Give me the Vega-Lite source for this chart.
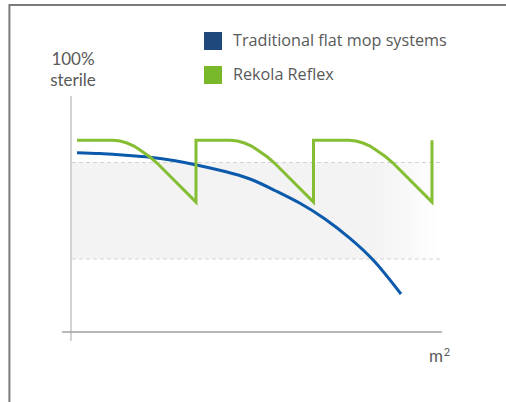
{
  "$schema": "https://vega.github.io/schema/vega-lite/v6.json",
  "width": 371,
  "height": 236,
  "autosize": {"type": "none"},
  "padding": {"left": 71, "top": 96, "right": 64, "bottom": 70},
  "background": "white",
  "config": {"view": {"stroke": null}},
  "datasets": {
    "frame": [{"x1": -16.6, "x2": 140, "y1": 138.6, "y2": -40}],
    "band": [{"x1": 0.27, "x2": 100, "y1": 30.93, "y2": 71.82}],
    "dashes": [{"x1": 0.27, "x2": 100, "y": 71.82}, {"x1": 0.27, "x2": 100, "y": 30.93}],
    "yaxis": [{"x": 0, "y1": -3.81, "y2": 100}],
    "xaxis": [{"x1": -2.43, "x2": 100, "y": 0}],
    "lines": [
      {"s": "Traditional flat mop systems", "i": 1, "x": 1.62, "y": 75.97},
      {"s": "Traditional flat mop systems", "i": 2, "x": 7.82, "y": 75.59},
      {"s": "Traditional flat mop systems", "i": 3, "x": 14.56, "y": 74.87},
      {"s": "Traditional flat mop systems", "i": 4, "x": 21.29, "y": 74.03},
      {"s": "Traditional flat mop systems", "i": 5, "x": 28.03, "y": 72.54},
      {"s": "Traditional flat mop systems", "i": 6, "x": 34.77, "y": 70.47},
      {"s": "Traditional flat mop systems", "i": 7, "x": 41.51, "y": 68.01},
      {"s": "Traditional flat mop systems", "i": 8, "x": 48.25, "y": 64.83},
      {"s": "Traditional flat mop systems", "i": 9, "x": 54.99, "y": 59.96},
      {"s": "Traditional flat mop systems", "i": 10, "x": 61.73, "y": 54.53},
      {"s": "Traditional flat mop systems", "i": 11, "x": 68.46, "y": 47.88},
      {"s": "Traditional flat mop systems", "i": 12, "x": 75.2, "y": 39.7},
      {"s": "Traditional flat mop systems", "i": 13, "x": 81.94, "y": 29.66},
      {"s": "Traditional flat mop systems", "i": 14, "x": 88.95, "y": 16.1},
      {"s": "Rekola Reflex", "i": 1, "x": 1.62, "y": 81.23},
      {"s": "Rekola Reflex", "i": 2, "x": 11.32, "y": 81.23},
      {"s": "Rekola Reflex", "i": 3, "x": 13.21, "y": 80.93},
      {"s": "Rekola Reflex", "i": 4, "x": 15.09, "y": 80.08},
      {"s": "Rekola Reflex", "i": 5, "x": 16.98, "y": 78.81},
      {"s": "Rekola Reflex", "i": 6, "x": 18.6, "y": 77.12},
      {"s": "Rekola Reflex", "i": 7, "x": 19.95, "y": 75.64},
      {"s": "Rekola Reflex", "i": 8, "x": 21.29, "y": 74.15},
      {"s": "Rekola Reflex", "i": 9, "x": 23.18, "y": 71.61},
      {"s": "Rekola Reflex", "i": 10, "x": 33.69, "y": 55.08},
      {"s": "Rekola Reflex", "i": 11, "x": 33.69, "y": 81.23},
      {"s": "Rekola Reflex", "i": 12, "x": 42.99, "y": 81.23},
      {"s": "Rekola Reflex", "i": 13, "x": 44.88, "y": 80.93},
      {"s": "Rekola Reflex", "i": 14, "x": 46.77, "y": 80.08},
      {"s": "Rekola Reflex", "i": 15, "x": 48.65, "y": 78.81},
      {"s": "Rekola Reflex", "i": 16, "x": 50.27, "y": 77.12},
      {"s": "Rekola Reflex", "i": 17, "x": 51.62, "y": 75.64},
      {"s": "Rekola Reflex", "i": 18, "x": 52.96, "y": 74.15},
      {"s": "Rekola Reflex", "i": 19, "x": 54.85, "y": 71.61},
      {"s": "Rekola Reflex", "i": 20, "x": 65.36, "y": 55.08},
      {"s": "Rekola Reflex", "i": 21, "x": 65.36, "y": 81.23},
      {"s": "Rekola Reflex", "i": 22, "x": 74.93, "y": 81.23},
      {"s": "Rekola Reflex", "i": 23, "x": 76.82, "y": 80.93},
      {"s": "Rekola Reflex", "i": 24, "x": 78.71, "y": 80.08},
      {"s": "Rekola Reflex", "i": 25, "x": 80.59, "y": 78.81},
      {"s": "Rekola Reflex", "i": 26, "x": 82.21, "y": 77.12},
      {"s": "Rekola Reflex", "i": 27, "x": 83.56, "y": 75.64},
      {"s": "Rekola Reflex", "i": 28, "x": 84.91, "y": 74.15},
      {"s": "Rekola Reflex", "i": 29, "x": 86.79, "y": 71.61},
      {"s": "Rekola Reflex", "i": 30, "x": 97.3, "y": 55.08},
      {"s": "Rekola Reflex", "i": 31, "x": 97.3, "y": 81.23}
    ],
    "labels": [
      {"t": "100%", "x": 0.54, "y": 113.1},
      {"t": "sterile", "x": 0.54, "y": 104.2},
      {"t": "m", "x": 98.4, "y": -12.7}
    ],
    "sup": [
      {"t": "2", "x": 101.3, "y": -10.2}
    ]
  },
  "layer": [
    {
      "data": {"name": "frame"},
      "mark": {"type": "rect", "fill": "transparent", "stroke": "#7a7a7a", "strokeWidth": 2},
      "encoding": {
        "x": {"field": "x1", "type": "quantitative", "scale": {"domain": [0, 100], "nice": false, "zero": false}, "axis": null},
        "x2": {"field": "x2"},
        "y": {"field": "y1", "type": "quantitative", "scale": {"domain": [0, 100], "nice": false, "zero": false}, "axis": null},
        "y2": {"field": "y2"}
      }
    },
    {
      "data": {"name": "band"},
      "mark": {"type": "rect", "fill": {"gradient": "linear", "x1": 0, "x2": 1, "y1": 0, "y2": 0, "stops": [{"offset": 0, "color": "#f3f3f3"}, {"offset": 0.82, "color": "#f3f3f3"}, {"offset": 1, "color": "#ffffff"}]}},
      "encoding": {
        "x": {"field": "x1", "type": "quantitative"},
        "x2": {"field": "x2"},
        "y": {"field": "y1", "type": "quantitative"},
        "y2": {"field": "y2"}
      }
    },
    {
      "data": {"name": "dashes"},
      "mark": {"type": "rule", "color": "#d2d2d2", "strokeWidth": 1, "strokeDash": [4, 3]},
      "encoding": {
        "x": {"field": "x1", "type": "quantitative"},
        "x2": {"field": "x2"},
        "y": {"field": "y", "type": "quantitative"}
      }
    },
    {
      "data": {"name": "yaxis"},
      "mark": {"type": "rule", "color": "#c4c4c4", "strokeWidth": 1.5},
      "encoding": {
        "x": {"field": "x", "type": "quantitative"},
        "y": {"field": "y1", "type": "quantitative"},
        "y2": {"field": "y2"}
      }
    },
    {
      "data": {"name": "xaxis"},
      "mark": {"type": "rule", "color": "#a0a0a0", "strokeWidth": 1.5},
      "encoding": {
        "x": {"field": "x1", "type": "quantitative"},
        "x2": {"field": "x2"},
        "y": {"field": "y", "type": "quantitative"}
      }
    },
    {
      "data": {"name": "lines"},
      "transform": [{"filter": "datum.s == 'Traditional flat mop systems'"}],
      "mark": {"type": "line", "interpolate": "natural", "strokeWidth": 3},
      "encoding": {
        "x": {"field": "x", "type": "quantitative"},
        "y": {"field": "y", "type": "quantitative"},
        "order": {"field": "i", "type": "quantitative"},
        "color": {
          "field": "s", "type": "nominal",
          "scale": {"domain": ["Traditional flat mop systems", "Rekola Reflex"], "range": ["#0b5aab", "#85bd33"]},
          "legend": {
            "orient": "none", "legendX": 133, "legendY": -64, "title": null,
            "symbolType": "square", "symbolSize": 324, "symbolStrokeWidth": 0,
            "labelFont": "Open Sans", "labelFontSize": 16.2, "labelColor": "#595959",
            "labelOffset": 11, "rowPadding": 16, "padding": 0, "labelLimit": 400,
            "encode": {"symbols": {"update": {
              "fill": {"signal": "datum.value == 'Rekola Reflex' ? '#79b72b' : '#1f497d'"},
              "stroke": {"value": "transparent"},
              "opacity": {"value": 1}
            }}}
          }
        }
      }
    },
    {
      "data": {"name": "lines"},
      "transform": [{"filter": "datum.s == 'Rekola Reflex'"}],
      "mark": {"type": "line", "interpolate": "linear", "strokeWidth": 3, "strokeJoin": "miter"},
      "encoding": {
        "x": {"field": "x", "type": "quantitative"},
        "y": {"field": "y", "type": "quantitative"},
        "order": {"field": "i", "type": "quantitative"},
        "color": {"field": "s", "type": "nominal"}
      }
    },
    {
      "data": {"name": "labels"},
      "mark": {"type": "text", "font": "Lato", "fontSize": 17, "color": "#595959", "align": "center", "baseline": "alphabetic"},
      "encoding": {
        "x": {"field": "x", "type": "quantitative"},
        "y": {"field": "y", "type": "quantitative"},
        "text": {"field": "t", "type": "nominal"}
      }
    },
    {
      "data": {"name": "sup"},
      "mark": {"type": "text", "font": "Lato", "fontSize": 11, "color": "#595959", "align": "center", "baseline": "alphabetic"},
      "encoding": {
        "x": {"field": "x", "type": "quantitative"},
        "y": {"field": "y", "type": "quantitative"},
        "text": {"field": "t", "type": "nominal"}
      }
    }
  ]
}
